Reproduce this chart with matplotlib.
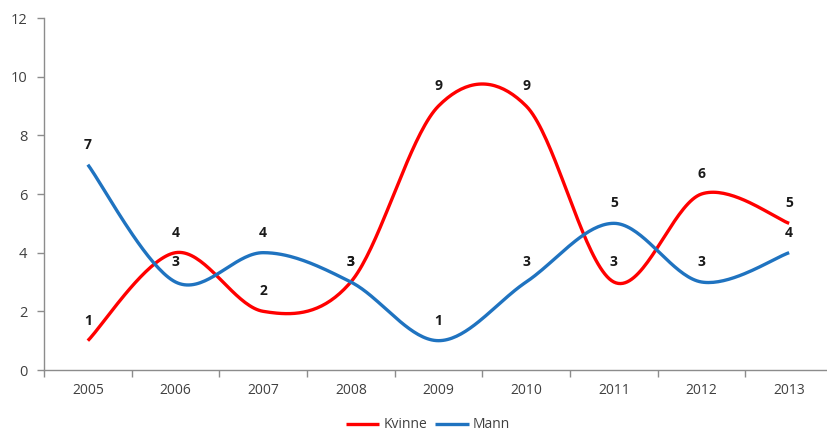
import numpy as np
import matplotlib
matplotlib.use("Agg")
import matplotlib.pyplot as plt

years = ["2005", "2006", "2007", "2008", "2009", "2010", "2011", "2012", "2013"]
kvinne = [1, 4, 2, 3, 9, 9, 3, 6, 5]
mann = [7, 3, 4, 3, 1, 3, 5, 3, 4]

RED = "#FF0000"
BLUE = "#1F73C0"
AXIS = "#8C8C8C"
TEXT = "#404040"


def smooth(xs, ys, n=40):
    """Cubic Bezier smoothing through every point (spreadsheet-style)."""
    xs = np.asarray(xs, float)
    ys = np.asarray(ys, float)
    pts = np.column_stack([xs, ys])
    out = [pts[0]]
    m = len(pts)
    t = np.linspace(0, 1, n)[1:, None]
    for i in range(m - 1):
        p0 = pts[i - 1] if i > 0 else pts[i]
        p1 = pts[i]
        p2 = pts[i + 1]
        p3 = pts[i + 2] if i + 2 < m else pts[i + 1]
        c1 = p1 + (p2 - p0) / 6.0
        c2 = p2 - (p3 - p1) / 6.0
        seg = ((1 - t) ** 3) * p1 + 3 * ((1 - t) ** 2) * t * c1 \
            + 3 * (1 - t) * t ** 2 * c2 + t ** 3 * p2
        out.extend(seg)
    out = np.array(out)
    return out[:, 0], out[:, 1]


plt.rcParams["font.family"] = ["Open Sans", "DejaVu Sans"]

fig = plt.figure(figsize=(8.27, 4.32), dpi=100)
W, H = 827, 432
left, right = 44, 833
bottom, top = 370, 18
ax = fig.add_axes([left / W, 1 - bottom / H, (right - left) / W, (bottom - top) / H])

x = np.arange(len(years))
for vals, col, name in [(kvinne, RED, "Kvinne"), (mann, BLUE, "Mann")]:
    sx, sy = smooth(x, vals)
    ax.plot(sx, sy, color=col, lw=2.4, solid_capstyle="butt", label=name)
    for xi, v in zip(x, vals):
        ax.annotate(str(v), (xi, v), xytext=(0, 14.5), textcoords="offset points",
                    ha="center", va="center", fontsize=10, fontweight="bold",
                    color="#1a1a1a")

ax.set_xlim(-0.5, len(years) - 0.5)
ax.set_ylim(0, 12)
ax.set_yticks(range(0, 13, 2))
ax.set_xticks(x)
ax.set_xticklabels(years)
ax.set_xticks(np.arange(-0.5, len(years), 1.0), minor=True)
ax.tick_params(axis="x", which="major", length=0, pad=9, labelsize=10, labelcolor=TEXT)
ax.tick_params(axis="x", which="minor", length=5, width=1, color=AXIS, direction="out")
ax.tick_params(axis="y", length=5, width=1, color=AXIS, pad=7, labelsize=10.5, labelcolor=TEXT)

for s in ["top", "right"]:
    ax.spines[s].set_visible(False)
for s in ["left", "bottom"]:
    ax.spines[s].set_color(AXIS)
    ax.spines[s].set_linewidth(1)

leg = fig.legend(loc="center", bbox_to_anchor=(428 / W, 1 - 425 / H), ncol=2,
                 frameon=False, fontsize=10, handlelength=2.4, handletextpad=0.3,
                 columnspacing=0.6, labelcolor=TEXT)

fig.savefig("out.png", dpi=100)
